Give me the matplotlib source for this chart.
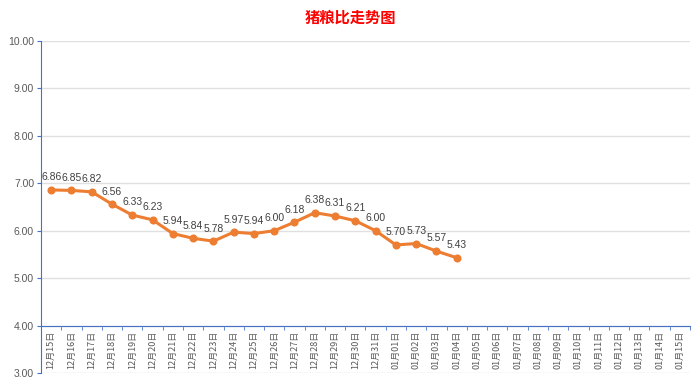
import matplotlib.pyplot as plt
import numpy as np

plt.rcParams['font.family'] = ['Noto Sans CJK SC', 'DejaVu Sans']

dates = ["12月15日", "12月16日", "12月17日", "12月18日", "12月19日", "12月20日",
         "12月21日", "12月22日", "12月23日", "12月24日", "12月25日", "12月26日",
         "12月27日", "12月28日", "12月29日", "12月30日", "12月31日",
         "01月01日", "01月02日", "01月03日", "01月04日", "01月05日", "01月06日",
         "01月07日", "01月08日", "01月09日", "01月10日", "01月11日", "01月12日",
         "01月13日", "01月14日", "01月15日"]
ratio = [6.86, 6.85, 6.82, 6.56, 6.33, 6.23, 5.94, 5.84, 5.78, 5.97, 5.94,
         6.00, 6.18, 6.38, 6.31, 6.21, 6.00, 5.70, 5.73, 5.57, 5.43]

fig = plt.figure(figsize=(7, 3.86), dpi=100)
ax = fig.add_axes([0.0586, 0.0337, 0.927, 0.86])

x = np.arange(len(ratio))
ax.plot(x, ratio, color="#ED7D31", linewidth=2.2, marker="o", markersize=4.8, zorder=3)
for xi, v in zip(x, ratio):
    ax.annotate(f"{v:.2f}", (xi, v), xytext=(0, 5.5), textcoords="offset points",
                ha="center", va="bottom", fontsize=7.5, color="#404040",
                family="Liberation Sans")

ax.set_xlim(-0.5, len(dates) - 0.5)
ax.set_ylim(3, 10)
yt = np.arange(3, 10.01, 1)
ax.set_yticks(yt)
ax.set_yticklabels([f"{v:.2f}" for v in yt], family="Liberation Sans")
ax.tick_params(axis="y", labelsize=7.5, labelcolor="#595959", length=3,
               color="#4472C4", pad=2)
ax.grid(axis="y", color="#E0E0E0", linewidth=1)
ax.set_axisbelow(True)

ax.set_xticks(np.arange(len(dates)))
ax.set_xticklabels(dates)
ax.set_xticks(np.arange(-0.5, len(dates), 1), minor=True)
ax.tick_params(axis="x", which="major", length=0, pad=4, labelrotation=90,
               labelsize=6.5, labelcolor="#595959")
ax.tick_params(axis="x", which="minor", length=3, color="#4472C4", direction="out")

for s in ["top", "right"]:
    ax.spines[s].set_visible(False)
ax.spines["bottom"].set_position(("data", 4))
ax.spines["bottom"].set_color("#4472C4")
ax.spines["left"].set_color("#4472C4")

fig.text(0.5, 0.955, "猪粮比走势图", ha="center", va="center", fontsize=11,
         fontweight="bold", color="#FF0000")

fig.savefig("out.png", dpi=100)
